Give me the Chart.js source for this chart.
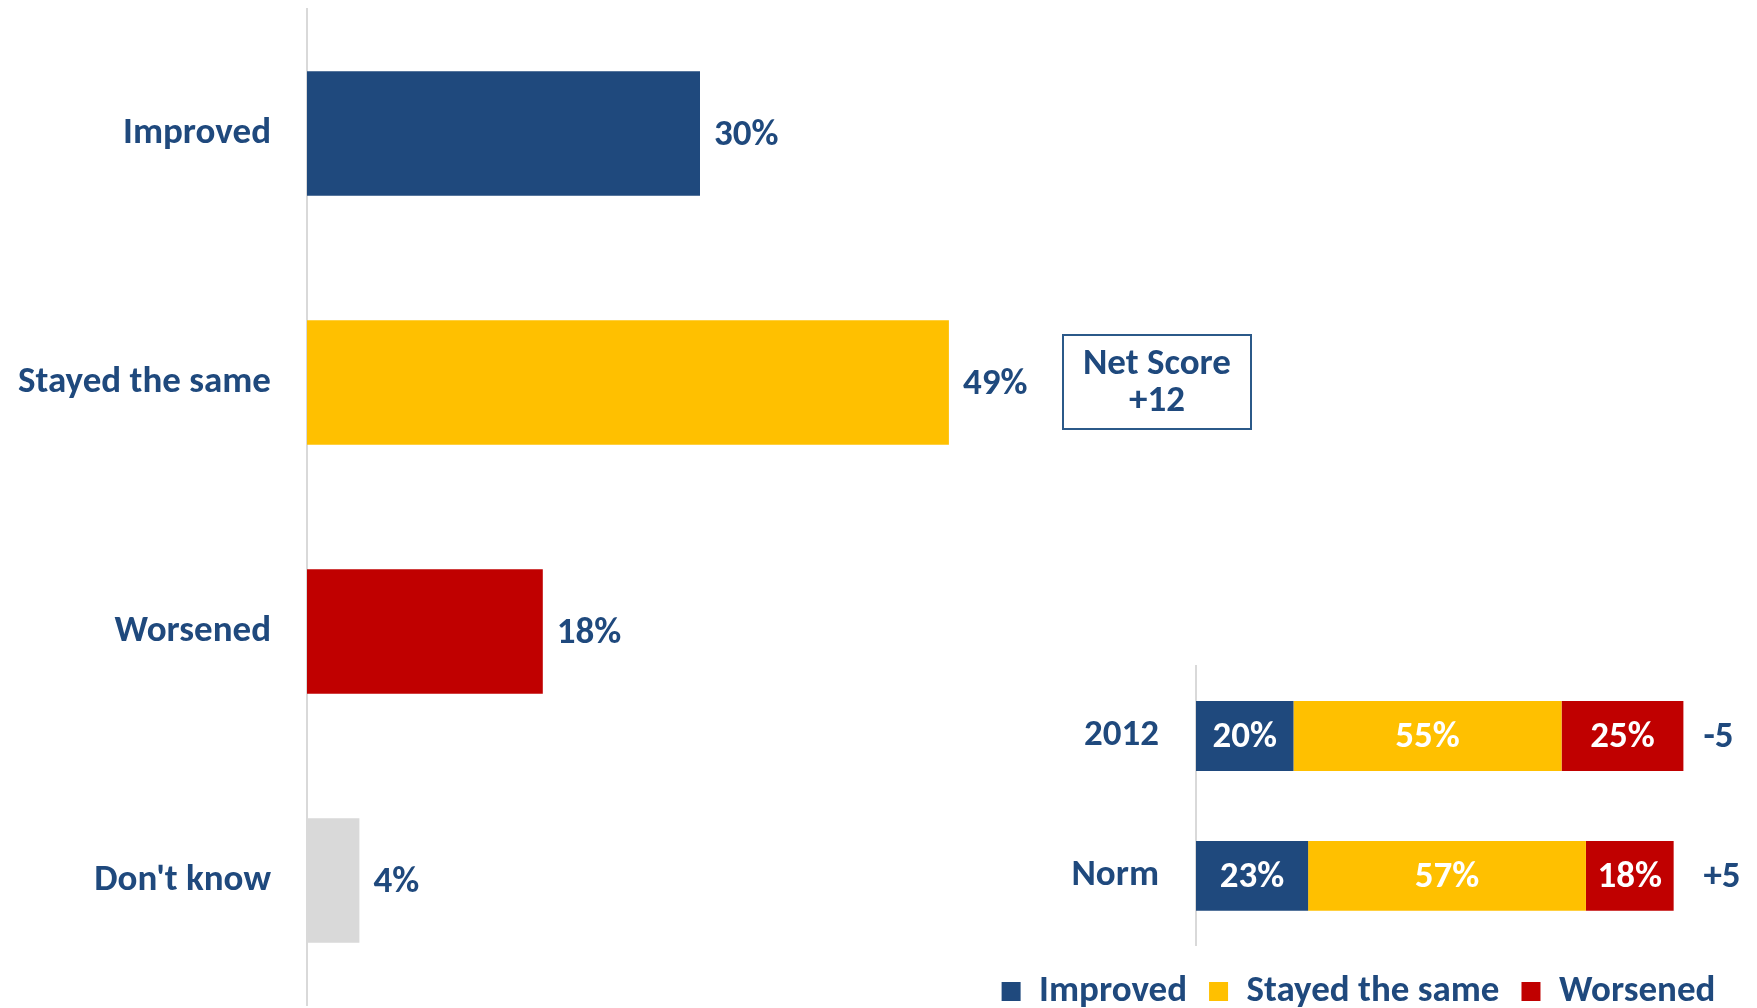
<!DOCTYPE html>
<html>
<head>
<meta charset="utf-8">
<script src="https://cdn.jsdelivr.net/npm/chart.js@4.4.0/dist/chart.umd.min.js"></script>
<style>
  html, body { margin: 0; padding: 0; background: #fff; overflow: hidden; }
  body { width: 1757px; height: 1008px; position: relative; }
  #mainWrap { position: absolute; left: 0; top: 0; width: 1757px; height: 1008px; }
  #normWrap { position: absolute; left: 960px; top: 650px; width: 797px; height: 370px; }
  #netBox {
    position: absolute; left: 1062px; top: 334px; width: 186px; height: 85px;
    border: 2px solid #2B5989; color: #1F497D; text-align: center;
    font: bold 37px Carlito, Lato, sans-serif; line-height: 37px; padding-top: 7px;
  }
</style>
</head>
<body>
<div id="mainWrap"><canvas id="mainChart"></canvas></div>
<div id="normWrap"><canvas id="normChart"></canvas></div>
<div id="netBox">Net Score<br>+12</div>
<script>
    'use strict';

    const FONT = 'Carlito, Lato, sans-serif';
    const NAVY = '#1F497D';
    const YELLOW = '#FFC000';
    const RED = '#C00000';
    const GREY = '#D9D9D9';

    // Main chart data
    const categories = ['Improved', 'Stayed the same', 'Worsened', "Don't know"];
    const values = [30, 49, 18, 4];
    const barColors = [NAVY, YELLOW, RED, GREY];

    // Comparison chart data
    const compareRows = ['2012', 'Norm'];
    const improvedVals = [20, 23];
    const sameVals = [55, 57];
    const worsenedVals = [25, 18];
    const netScores = ['-5', '+5'];

    // keep the category axis from adding label padding above/below the plot
    function fixAxis(width) {
        return function(scale) {
            scale.width = width;
            scale.paddingTop = 0;
            scale.paddingBottom = 0;
        };
    }

    // value labels drawn just right of each bar
    const endLabels = {
        id: 'endLabels',
        afterDatasetsDraw(chart) {
            const ctx = chart.ctx;
            const meta = chart.getDatasetMeta(0);
            ctx.save();
            ctx.font = 'bold 37px ' + FONT;
            ctx.fillStyle = NAVY;
            ctx.textAlign = 'left';
            ctx.textBaseline = 'middle';
            meta.data.forEach((bar, i) => {
                ctx.fillText(values[i] + '%', bar.x + 14, bar.y + 2);
            });
            ctx.restore();
        }
    };

    // segment labels inside stacked bars plus net score to the right
    const segmentLabels = {
        id: 'segmentLabels',
        afterDatasetsDraw(chart) {
            const ctx = chart.ctx;
            ctx.save();
            ctx.font = 'bold 37px ' + FONT;
            ctx.textBaseline = 'middle';
            ctx.fillStyle = '#fff';
            ctx.textAlign = 'center';
            chart.data.datasets.forEach((ds, d) => {
                chart.getDatasetMeta(d).data.forEach((bar, i) => {
                    const mid = (bar.x + bar.base) / 2;
                    ctx.fillText(ds.data[i] + '%', mid, bar.y + 2);
                });
            });
            ctx.fillStyle = NAVY;
            ctx.textAlign = 'left';
            const xEnd = chart.scales.x.getPixelForValue(100);
            netScores.forEach((s, i) => {
                ctx.fillText(s, xEnd + 20, chart.scales.y.getPixelForValue(i) + 2);
            });
            ctx.restore();
        }
    };

    new Chart(document.getElementById('mainChart'), {
        type: 'bar',
        data: {
            labels: categories,
            datasets: [{
                data: values,
                backgroundColor: barColors,
                categoryPercentage: 1,
                barPercentage: 0.5
            }]
        },
        options: {
            indexAxis: 'y',
            responsive: true,
            maintainAspectRatio: false,
            animation: false,
            layout: { padding: { left: 0, top: 9, right: 140, bottom: 3 } },
            plugins: { legend: { display: false }, tooltip: { enabled: false } },
            scales: {
                x: { display: false, min: 0, max: 100 },
                y: {
                    afterFit: fixAxis(307),
                    grid: { display: false, drawTicks: false },
                    border: { display: true, color: GREY, width: 2 },
                    ticks: { color: NAVY, padding: 36, font: { family: FONT, size: 37, weight: 'bold' } }
                }
            }
        },
        plugins: [endLabels]
    });

    new Chart(document.getElementById('normChart'), {
        type: 'bar',
        data: {
            labels: compareRows,
            datasets: [
                { label: 'Improved', data: improvedVals, backgroundColor: NAVY },
                { label: 'Stayed the same', data: sameVals, backgroundColor: YELLOW },
                { label: 'Worsened', data: worsenedVals, backgroundColor: RED }
            ].map(ds => Object.assign(ds, { categoryPercentage: 1, barPercentage: 0.5 }))
        },
        options: {
            indexAxis: 'y',
            responsive: true,
            maintainAspectRatio: false,
            animation: false,
            layout: { padding: { left: 0, top: 16, right: 0, bottom: 0 } },
            plugins: {
                tooltip: { enabled: false },
                legend: {
                    position: 'bottom',
                    // empty title only adds a little space above the legend row
                    title: { display: true, text: '', padding: { top: 4, bottom: 0 }, font: { size: 1 } },
                    labels: {
                        boxWidth: 19, boxHeight: 19, padding: 22,
                        color: NAVY,
                        font: { family: FONT, size: 37, weight: 'bold' }
                    }
                }
            },
            scales: {
                // 100% ends at about x=1683; the extra room holds the net scores
                x: { display: false, stacked: true, min: 0, max: 115.1 },
                y: {
                    stacked: true,
                    afterFit: fixAxis(236),
                    grid: { display: false, drawTicks: false },
                    border: { display: true, color: GREY, width: 2 },
                    ticks: { color: NAVY, padding: 37, font: { family: FONT, size: 37, weight: 'bold' } }
                }
            }
        },
        plugins: [segmentLabels]
    });
</script>
</body>
</html>
